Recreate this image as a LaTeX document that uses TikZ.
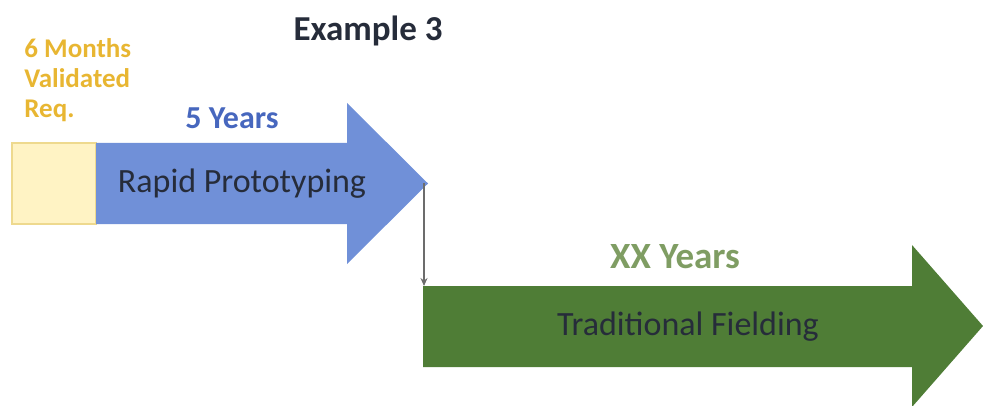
\documentclass[tikz,border=0pt]{standalone}
\usepackage{fontspec}
\setmainfont{Carlito}
\usetikzlibrary{arrows.meta}
\definecolor{reqfill}{HTML}{FFF3C4}
\definecolor{reqline}{HTML}{EED98E}
\definecolor{reqtext}{HTML}{E8B632}
\definecolor{protofill}{HTML}{7090D8}
\definecolor{prototext}{HTML}{4767BE}
\definecolor{fieldfill}{HTML}{4F7D36}
\definecolor{fieldtext}{HTML}{7F9D63}
\definecolor{bartext}{HTML}{262C3A}
\tikzset{
  bar label/.style={text=bartext, font=\fontsize{17}{20}\selectfont},
  span label/.style={font=\bfseries\fontsize{16}{19}\selectfont},
}
\begin{document}
\begin{tikzpicture}[x=0.5pt, y=-0.5pt, every node/.style={inner sep=1pt}]
\useasboundingbox (0,0) rectangle (983,406);
% requirement box
\draw[reqline, fill=reqfill, line width=0.6pt] (12,143) rectangle (96,224);
% prototyping arrow
\fill[protofill] (96,143) -- (347,143) -- (347,103) -- (428,183.5)
  -- (347,264) -- (347,224) -- (96,224) -- cycle;
\coordinate (ptip) at (424,183.5);
% fielding arrow
\fill[fieldfill] (423,286) -- (912,286) -- (912,245) -- (983,326)
  -- (912,407) -- (912,367) -- (423,367) -- cycle;
\coordinate (fstart) at (423,286);
\draw[gray!85!black, line width=0.6pt, -{Stealth[length=4pt, width=3.5pt]}] (ptip) -- (ptip |- fstart);
% labels
\node[font=\bfseries\fontsize{17.5}{20}\selectfont, text=bartext] (title) at (368,31) {Example 3};
\node[anchor=north west, align=left, text=reqtext, font=\bfseries\fontsize{13.5}{15}\selectfont] (req) at (22,36) {6 Months\\Validated\\Req.};
\node[span label, text=prototext] (ptime) at (232,118) {5 Years};
\node[bar label] (proto) at (242,184) {Rapid Prototyping};
\node[span label, text=fieldtext, font=\bfseries\fontsize{18.5}{21}\selectfont] (ftime) at (675,257) {XX Years};
\node[bar label] (field) at (688,327) {Traditional Fielding};
\end{tikzpicture}
\end{document}
